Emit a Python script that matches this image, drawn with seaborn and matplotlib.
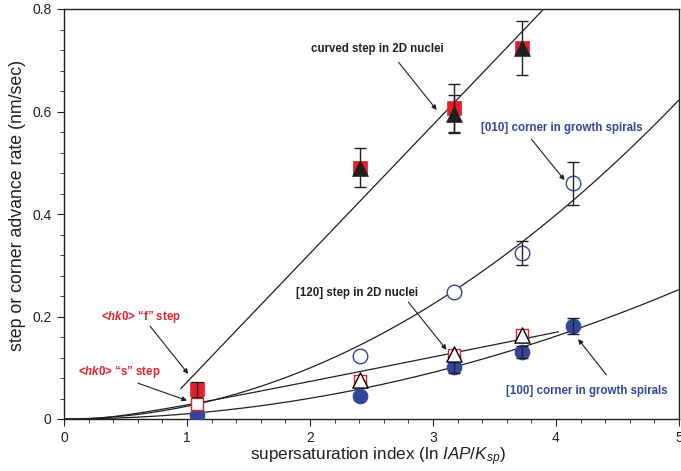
import numpy as np
import pandas as pd
import matplotlib
matplotlib.use("Agg")
import matplotlib.pyplot as plt
import seaborn as sns

# ---------------- data ----------------
f_step_x = [1.08, 2.41, 3.17, 3.72]
f_step_y = [0.058, 0.490, 0.607, 0.724]
f_step_err = [0.015, 0.0, 0.047, 0.0]

curved_x = [2.41, 3.17, 3.72]
curved_y = [0.490, 0.595, 0.724]
curved_err = [0.038, 0.037, 0.053]

s_step_x = [1.08, 2.41, 3.17, 3.72]
s_step_y = [0.030, 0.075, 0.125, 0.163]

step120_x = [2.41, 3.17, 3.72]
step120_y = [0.077, 0.126, 0.164]

c010_x = [2.41, 3.17, 3.72, 4.14]
c010_y = [0.123, 0.248, 0.324, 0.460]
c010_err = [0.0, 0.0, 0.023, 0.042]

c100_x = [1.08, 2.41, 3.17, 3.72, 4.14]
c100_y = [0.008, 0.045, 0.101, 0.131, 0.181]
c100_err = [0.0, 0.0, 0.011, 0.012, 0.016]

# fitted model curves (parameters)
curved_fit = dict(slope=0.251, x0=0.713, xmin=0.95, xmax=3.9)
c010_fit = dict(a=0.0249, n=2.0, xmin=0.0, xmax=5.0)
step120_fit = dict(A=0.0488, B=0.572, xmin=0.0, xmax=4.02)
c100_fit = dict(a=0.0101, n=2.0, xmin=0.0, xmax=5.0)

x_ticks = [0, 1, 2, 3, 4, 5]
y_ticks = [0, 0.2, 0.4, 0.6, 0.8]
y_ticklabels = ["0", "0.2", "0.4", "0.6", "0.8"]

RED = "#e5202b"
BLUE = "#34469b"
INK = "#231f20"

# ---------------- style ----------------
sns.set_theme(style="ticks")
plt.rcParams["font.family"] = ["Liberation Sans", "DejaVu Sans"]
plt.rcParams["mathtext.fontset"] = "custom"
plt.rcParams["mathtext.rm"] = "Liberation Sans"
plt.rcParams["mathtext.it"] = "Liberation Sans:italic"
plt.rcParams["mathtext.bf"] = "Liberation Sans:bold"
try:
    plt.rcParams["mathtext.bfit"] = "Liberation Sans:bold:italic"
except KeyError:
    pass

fig = plt.figure(figsize=(6.81, 4.71), dpi=100)
ax = fig.add_axes([64 / 681, 1 - 419 / 471, (679 - 64) / 681, (419 - 9) / 471])


def curve_df(xs, ys):
    return pd.DataFrame({"x": xs, "y": ys})


# curves
xc = np.linspace(curved_fit["xmin"], curved_fit["xmax"], 50)
yc = curved_fit["slope"] * (xc - curved_fit["x0"])
x1 = np.linspace(c010_fit["xmin"], c010_fit["xmax"], 200)
y1 = c010_fit["a"] * x1 ** c010_fit["n"]
x2 = np.linspace(step120_fit["xmin"] + 1e-3, step120_fit["xmax"], 200)
y2 = step120_fit["A"] * x2 * np.exp(-step120_fit["B"] / x2)
x3 = np.linspace(c100_fit["xmin"], c100_fit["xmax"], 200)
y3 = c100_fit["a"] * x3 ** c100_fit["n"]

for xs, ys in [(xc, yc), (x1, y1), (x2, y2), (x3, y3)]:
    sns.lineplot(data=curve_df(xs, ys), x="x", y="y", ax=ax, color=INK,
                 lw=0.9, estimator=None, sort=False, zorder=2)

# markers
sns.scatterplot(x=c100_x, y=c100_y, ax=ax, marker="o", s=110, color=BLUE,
                edgecolor=BLUE, linewidth=0.8, zorder=3)
sns.scatterplot(x=c010_x, y=c010_y, ax=ax, marker="o", s=110, color="white",
                edgecolor=BLUE, linewidth=1.0, zorder=3)
sns.scatterplot(x=s_step_x, y=s_step_y, ax=ax, marker="s", s=80, color="white",
                edgecolor=RED, linewidth=1.0, zorder=3)
sns.scatterplot(x=step120_x, y=step120_y, ax=ax, marker="^", s=120, color="white",
                edgecolor="black", linewidth=1.0, zorder=4)
sns.scatterplot(x=f_step_x, y=f_step_y, ax=ax, marker="s", s=90, color=RED,
                edgecolor=RED, linewidth=0.5, zorder=3)
sns.scatterplot(x=curved_x, y=curved_y, ax=ax, marker="^", s=130, color=INK,
                edgecolor=INK, linewidth=0.5, zorder=4)

# error bars
for xs, ys, es in [(f_step_x, f_step_y, f_step_err), (curved_x, curved_y, curved_err),
                   (c010_x, c010_y, c010_err), (c100_x, c100_y, c100_err)]:
    xs = np.array(xs); ys = np.array(ys); es = np.array(es)
    m = es > 0
    ax.errorbar(xs[m], ys[m], yerr=es[m], fmt="none", ecolor=INK, elinewidth=1.0,
                capsize=4.5, capthick=1.0, zorder=5)

# annotations
arrow = dict(arrowstyle="-|>", color=INK, lw=0.8, mutation_scale=7, shrinkA=0, shrinkB=0)
fs = 8.3
ax.text(2.545, 0.722, "curved step in 2D nuclei", ha="center", va="center",
        fontsize=fs, fontweight="bold", color=INK)
ax.annotate("", xy=(3.03, 0.603), xytext=(2.72, 0.696), arrowprops=arrow)

ax.text(4.05, 0.568, "[010] corner in growth spirals", ha="center", va="center",
        fontsize=fs, fontweight="bold", color=BLUE)
ax.annotate("", xy=(4.07, 0.466), xytext=(3.80, 0.546), arrowprops=arrow)

ax.text(2.38, 0.246, "[120] step in 2D nuclei", ha="center", va="center",
        fontsize=fs, fontweight="bold", color=INK)
ax.annotate("", xy=(3.11, 0.135), xytext=(2.80, 0.228), arrowprops=arrow)

ax.text(4.25, 0.055, "[100] corner in growth spirals", ha="center", va="center",
        fontsize=fs, fontweight="bold", color=BLUE)
ax.annotate("", xy=(4.18, 0.156), xytext=(4.41, 0.086), arrowprops=arrow)

ax.text(0.63, 0.199, r"<$\mathbfit{hk}$0> “f” step", ha="center", va="center",
        fontsize=fs, fontweight="bold", color=RED)
ax.annotate("", xy=(1.01, 0.088), xytext=(0.70, 0.181), arrowprops=arrow)

ax.text(0.45, 0.092, r"<$\mathbfit{hk}$0> “s” step", ha="center", va="center",
        fontsize=fs, fontweight="bold", color=RED)
ax.annotate("", xy=(1.0, 0.036), xytext=(0.60, 0.070), arrowprops=arrow)

# axes
ax.set_xlim(0, 5)
ax.set_ylim(0, 0.8)
ax.set_xticks(x_ticks)
ax.set_xticklabels([str(t) for t in x_ticks])
ax.set_yticks(y_ticks)
ax.set_yticklabels(y_ticklabels)
ax.set_xticks(np.arange(0, 5.01, 0.2), minor=True)
ax.set_yticks(np.arange(0, 0.801, 0.04), minor=True)
ax.tick_params(which="major", direction="out", length=5, width=0.8, labelsize=10,
               colors=INK, pad=4)
ax.tick_params(which="minor", direction="out", length=3, width=0.6, colors=INK)
for s in ax.spines.values():
    s.set_visible(True)
    s.set_linewidth(1.0)
    s.set_color(INK)

ax.set_xlabel(r"supersaturation index (ln $IAP/K_{sp}$)", fontsize=12.3, color=INK)
ax.set_ylabel("step or corner advance rate (nm/sec)", fontsize=12.8, color=INK)
ax.xaxis.set_label_coords(0.511, -0.065)
ax.yaxis.set_label_coords(-0.062, 0.52)

fig.savefig("out.png", dpi=100)
